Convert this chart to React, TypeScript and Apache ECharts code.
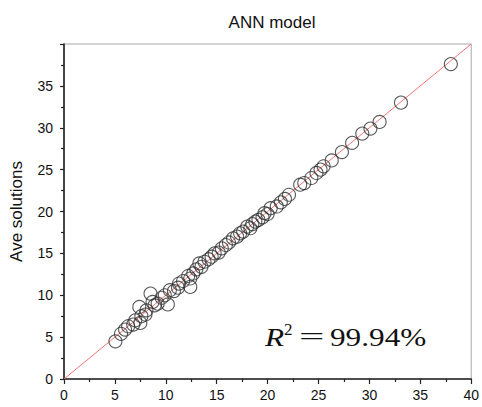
import React, { useEffect, useRef } from "react";
import * as echarts from "echarts";

const annValues = [
  5.05, 5.6, 6.0, 6.3, 6.8, 7.0, 7.5, 7.4, 7.6, 8.0, 8.1, 8.5, 8.7, 8.9, 9.2, 9.6, 9.9, 10.2,
  10.4, 10.8, 11.2, 11.3, 11.7, 12.2, 12.4, 12.4, 12.7, 13.0, 13.3, 13.5, 13.8, 14.2, 14.5,
  14.8, 15.2, 15.5, 15.9, 16.2, 16.6, 17.0, 17.3, 17.6, 18.0, 18.3, 18.5, 18.8, 19.1, 19.5,
  19.7, 20.0, 20.3, 20.9, 21.3, 21.7, 22.1, 23.2, 23.6, 24.3, 24.8, 25.2, 25.5, 26.3, 27.3,
  28.3, 29.3, 30.1, 31.0, 33.1, 38.0,
];
const aveValues = [
  4.5, 5.4, 5.9, 6.3, 6.5, 7.0, 6.7, 8.6, 7.5, 7.7, 8.2, 10.2, 9.2, 8.8, 9.0, 9.7, 10.0, 8.9,
  10.6, 10.5, 10.9, 11.4, 11.7, 12.3, 11.0, 12.0, 12.6, 13.1, 13.8, 13.4, 14.0, 14.3, 14.6,
  15.0, 15.1, 15.6, 16.0, 16.3, 16.8, 17.0, 17.4, 17.6, 18.2, 18.0, 18.5, 18.8, 19.0, 19.3,
  19.8, 19.7, 20.4, 20.6, 21.1, 21.5, 22.0, 23.2, 23.4, 24.0, 24.6, 25.0, 25.4, 26.1, 27.1,
  28.2, 29.3, 29.9, 30.7, 33.0, 37.6,
];
const diagonal = [
  [0, 0],
  [40, 40],
];
const titleText = "ANN model";
const yAxisName = "Ave solutions";
const r2Value = "99.94%";

const FONT = "'Liberation Sans', Arial, sans-serif";
const SERIF = "'Liberation Serif', 'Times New Roman', serif";

export default function App() {
  const ref = useRef<HTMLDivElement>(null);
  useEffect(() => {
    if (!ref.current) return;
    const chart = echarts.init(ref.current, null, { renderer: "svg" });
    const points = annValues.map((v, i) => [v, aveValues[i]]);
    chart.setOption({
      animation: false,
      backgroundColor: "#fff",
      title: {
        text: titleText,
        left: 267,
        textAlign: "center",
        top: 9,
        textStyle: { fontFamily: FONT, fontSize: 17, fontWeight: "normal", color: "#111" },
      },
      grid: {
        left: 60,
        right: 7,
        top: 44,
        bottom: 28,
        show: true,
        borderColor: "#a8a8a8",
        borderWidth: 1,
      },
      xAxis: {
        type: "value",
        min: 0,
        max: 40,
        interval: 5,
        splitLine: { show: false },
        axisLine: { show: true, onZero: false, lineStyle: { color: "#222", width: 1.6 } },
        axisTick: { show: true, inside: false, length: 5, lineStyle: { color: "#222", width: 1.2 } },
        minorTick: { show: true, splitNumber: 2, length: 3, lineStyle: { color: "#222", width: 1.2 } },
        axisLabel: { margin: 9, fontFamily: FONT, fontSize: 14, color: "#111" },
      },
      yAxis: {
        type: "value",
        min: 0,
        max: 40,
        interval: 5,
        name: yAxisName,
        nameLocation: "middle",
        nameGap: 39,
        nameTextStyle: { fontFamily: FONT, fontSize: 17, color: "#111" },
        splitLine: { show: false },
        axisLine: { show: true, onZero: false, lineStyle: { color: "#222", width: 1.6 } },
        axisTick: { show: true, inside: false, length: 4, lineStyle: { color: "#222", width: 1.2 } },
        minorTick: { show: true, splitNumber: 2, length: 3, lineStyle: { color: "#222", width: 1.2 } },
        axisLabel: { margin: 11, fontFamily: FONT, fontSize: 14, color: "#111", showMaxLabel: false },
      },
      series: [
        {
          type: "line",
          data: diagonal,
          symbol: "none",
          lineStyle: { color: "#f47575", width: 1 },
          z: 1,
        },
        {
          type: "scatter",
          data: points,
          symbol: "circle",
          symbolSize: 13,
          itemStyle: { color: "rgba(255,255,255,0)", borderColor: "#303030", borderWidth: 1.1 },
          z: 2,
        },
      ],
      graphic: [
        {
          type: "text",
          x: 265,
          y: 337.6,
          scaleX: 1.25,
          style: {
            text: "R",
            fontFamily: SERIF,
            fontStyle: "italic",
            fontSize: 25,
            fill: "#111",
            verticalAlign: "middle",
          },
        },
        {
          type: "text",
          x: 284,
          y: 329.5,
          style: {
            text: "2",
            fontFamily: SERIF,
            fontSize: 17,
            fill: "#111",
            verticalAlign: "middle",
          },
        },
        {
          type: "text",
          x: 299,
          y: 336.5,
          scaleX: 1.8,
          style: {
            text: "=",
            fontFamily: SERIF,
            fontSize: 25,
            fill: "#111",
            verticalAlign: "middle",
          },
        },
        {
          type: "text",
          x: 330,
          y: 337.6,
          scaleX: 1.25,
          style: {
            text: r2Value,
            fontFamily: SERIF,
            fontSize: 25,
            fill: "#111",
            verticalAlign: "middle",
          },
        },
      ],
    });
    return () => chart.dispose();
  }, []);
  return (
    <div
      ref={ref}
      style={{ position: "fixed", left: 0, top: 0, width: 482, height: 407 }}
    />
  );
}
